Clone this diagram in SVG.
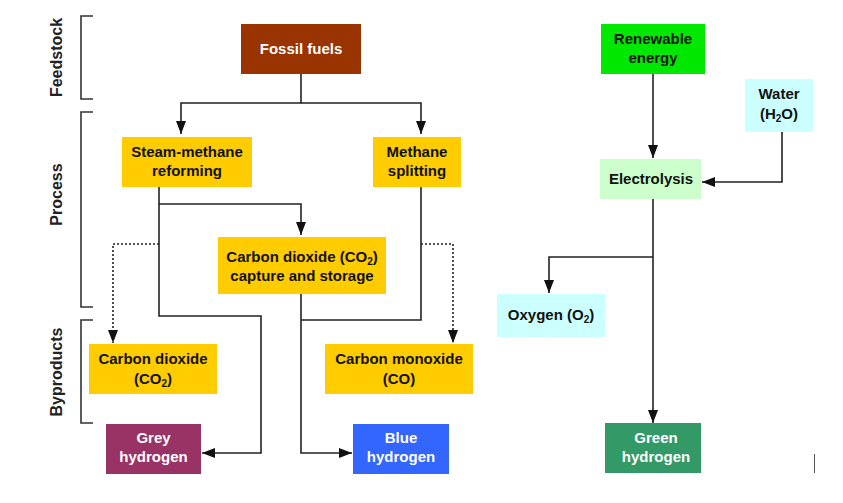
<svg xmlns="http://www.w3.org/2000/svg" width="843" height="503" viewBox="0 0 843 503">
<style>
text{font-family:"Liberation Sans",Arial,sans-serif;font-weight:bold;font-size:15px;text-anchor:middle;fill:#111}
.w{fill:#fff}
.lbl{font-size:16px;fill:#222}
.c{fill:none;stroke:#222;stroke-width:1.6}
.d{fill:none;stroke:#222;stroke-width:1.6;stroke-dasharray:2 2}
.br{fill:none;stroke:#333;stroke-width:1.6}
.y{fill:#ffcc00}
.s{font-size:10px}
</style>
<defs>
<marker id="a" markerUnits="userSpaceOnUse" markerWidth="13" markerHeight="10" refX="13" refY="5" orient="auto">
<path d="M0,0 L13,5 L0,10 z" fill="#111"/>
</marker>
</defs>
<rect width="843" height="503" fill="#fff"/>
<g id="brackets">
<path class="br" d="M93,16 H81 V99 H93"/>
<path class="br" d="M93,112 H81 V307 H93"/>
<path class="br" d="M93,320 H81 V423 H93"/>
<text class="lbl" transform="translate(62,57.5) rotate(-90)">Feedstock</text>
<text class="lbl" transform="translate(62,194.5) rotate(-90)">Process</text>
<text class="lbl" transform="translate(62,372) rotate(-90)">Byproducts</text>
</g>
<g id="connectors">
<path class="c" d="M301,74 V103 H181 V134" marker-end="url(#a)"/>
<path class="c" d="M301,103 H421 V134" marker-end="url(#a)"/>
<path class="c" d="M159,187 V316 H261 V453 H202" marker-end="url(#a)"/>
<path class="c" d="M159,204 H301 V235" marker-end="url(#a)"/>
<path class="c" d="M301,294 V453 H352" marker-end="url(#a)"/>
<path class="c" d="M421,187 V320 H301"/>
<path class="d" d="M159,244 H113 V343" marker-end="url(#a)"/>
<path class="d" d="M421,244 H453 V343" marker-end="url(#a)"/>
<path class="c" d="M653,74 V158" marker-end="url(#a)"/>
<path class="c" d="M782,132 V182 H702" marker-end="url(#a)"/>
<path class="c" d="M653,199 V423" marker-end="url(#a)"/>
<path class="c" d="M653,257 H549 V293" marker-end="url(#a)"/>
</g>
<g id="fossil-fuels">
<rect x="241" y="24" width="120" height="50" fill="#993300"/>
<text class="w" x="301" y="53.5">Fossil fuels</text>
</g>
<g id="steam-methane-reforming">
<rect class="y" x="122" y="137" width="130" height="50"/>
<text x="187" y="157">Steam-methane</text>
<text x="187" y="176">reforming</text>
</g>
<g id="methane-splitting">
<rect class="y" x="373" y="137" width="88" height="50"/>
<text x="417" y="157">Methane</text>
<text x="417" y="176">splitting</text>
</g>
<g id="ccs">
<rect class="y" x="218" y="237" width="168" height="57"/>
<text x="302" y="262">Carbon dioxide (CO<tspan class="s" dy="3">2</tspan><tspan dy="-3">)</tspan></text>
<text x="302" y="281">capture and storage</text>
</g>
<g id="carbon-dioxide">
<rect class="y" x="89" y="344" width="128" height="50"/>
<text x="153" y="364">Carbon dioxide</text>
<text x="153" y="384">(CO<tspan class="s" dy="3">2</tspan><tspan dy="-3">)</tspan></text>
</g>
<g id="carbon-monoxide">
<rect class="y" x="325" y="344" width="148" height="50"/>
<text x="399" y="364">Carbon monoxide</text>
<text x="399" y="384">(CO)</text>
</g>
<g id="grey-hydrogen">
<rect x="106" y="424" width="95" height="50" fill="#993366"/>
<text class="w" x="153.5" y="443">Grey</text>
<text class="w" x="153.5" y="462">hydrogen</text>
</g>
<g id="blue-hydrogen">
<rect x="353" y="424" width="96" height="50" fill="#3366ff"/>
<text class="w" x="401" y="443">Blue</text>
<text class="w" x="401" y="462">hydrogen</text>
</g>
<g id="renewable-energy">
<rect x="601" y="24" width="104" height="50" fill="#00e800"/>
<text x="653" y="44">Renewable</text>
<text x="653" y="63">energy</text>
</g>
<g id="water">
<rect x="745" y="79" width="68" height="53" fill="#ccffff"/>
<text x="779" y="99">Water</text>
<text x="779" y="119">(H<tspan class="s" dy="3">2</tspan><tspan dy="-3">O)</tspan></text>
</g>
<g id="electrolysis">
<rect x="600" y="159" width="101" height="40" fill="#ccffcc"/>
<text x="651" y="184">Electrolysis</text>
</g>
<g id="oxygen">
<rect x="497" y="294" width="108" height="43" fill="#ccffff"/>
<text x="551" y="320">Oxygen (O<tspan class="s" dy="3">2</tspan><tspan dy="-3">)</tspan></text>
</g>
<g id="green-hydrogen">
<rect x="605" y="423" width="96" height="50" fill="#339966"/>
<text class="w" x="656" y="443">Green</text>
<text class="w" x="656" y="462">hydrogen</text>
</g>
<line x1="814.5" y1="454" x2="814.5" y2="473" stroke="#555" stroke-width="1"/>
</svg>
